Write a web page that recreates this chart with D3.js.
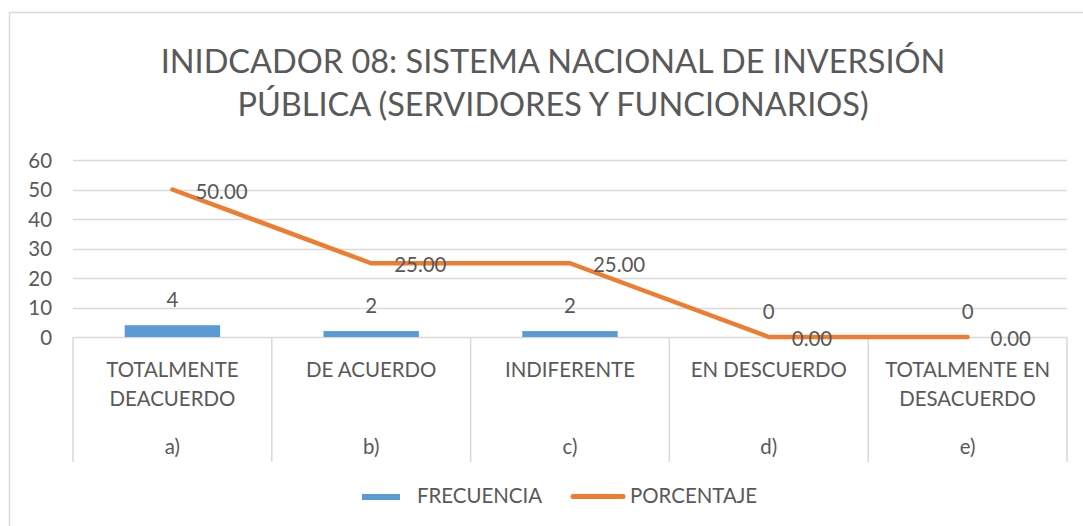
<!DOCTYPE html>
<html>
<head>
<meta charset="utf-8">
<script src="https://cdn.jsdelivr.net/npm/d3@7"></script>
<style>
  html, body { margin: 0; padding: 0; background: #fff; }
  svg text { font-family: Lato, "Open Sans", sans-serif; fill: #595959; }
</style>
</head>
<body>
<svg id="chart" width="1083" height="526"></svg>
<script>
// ---- data ----
const titleLines = ["INIDCADOR 08: SISTEMA NACIONAL DE INVERSIÓN", "PÚBLICA (SERVIDORES Y FUNCIONARIOS)"];
const categories = ["a)", "b)", "c)", "d)", "e)"];
const categoryLabels = [
  ["TOTALMENTE", "DEACUERDO"],
  ["DE ACUERDO"],
  ["INDIFERENTE"],
  ["EN DESCUERDO"],
  ["TOTALMENTE EN", "DESACUERDO"]
];
const frecuencia = [4, 2, 2, 0, 0];
const porcentaje = [50.00, 25.00, 25.00, 0.00, 0.00];
const yTicks = [0, 10, 20, 30, 40, 50, 60];
const seriesNames = ["FRECUENCIA", "PORCENTAJE"];

// ---- layout ----
const svg = d3.select("#chart");
const plot = { left: 73, right: 1067, top: 160, bottom: 337 };
const barColor = "#5B9BD5", lineColor = "#ED7D31", gridColor = "#D9D9D9";

// chart frame
svg.append("rect").attr("x", 9.5).attr("y", 12.5).attr("width", 1090).attr("height", 530)
  .attr("fill", "none").attr("stroke", gridColor).attr("stroke-width", 1.5);

// fit helper
function fitSize(text, target, base) {
  const t = svg.append("text").attr("font-size", base).text(text);
  const w = t.node().getComputedTextLength();
  t.remove();
  return base * target / w;
}
const titleSize = fitSize(titleLines[0], 785, 30);
const labelSize = fitSize("TOTALMENTE EN", 165, 18);

const x = d3.scaleBand().domain(categories).range([plot.left, plot.right]).paddingInner(0).paddingOuter(0);
const y = d3.scaleLinear().domain([0, 60]).range([plot.bottom, plot.top]);

// title
svg.append("g").selectAll("text").data(titleLines).join("text")
  .attr("x", 553).attr("y", (d, i) => 73 + i * 43)
  .attr("text-anchor", "middle").attr("font-size", titleSize).text(d => d);

// gridlines
svg.append("g").selectAll("line").data(yTicks).join("line")
  .attr("x1", plot.left).attr("x2", plot.right)
  .attr("y1", d => Math.round(y(d)) + 0.5).attr("y2", d => Math.round(y(d)) + 0.5)
  .attr("stroke", gridColor).attr("stroke-width", 1.5);

// y axis labels
const yAxis = d3.axisLeft(y).tickValues(yTicks).tickSize(0).tickPadding(0);
const yg = svg.append("g").attr("transform", `translate(52,0)`).call(yAxis);
yg.select(".domain").remove();
yg.selectAll("text").attr("font-size", labelSize).attr("fill", "#595959")
  .style("font-family", "Lato, 'Open Sans', sans-serif").attr("dy", "0.35em");

// category dividers
const edges = categories.map(c => x(c)).concat([plot.right]);
svg.append("g").selectAll("line").data(edges).join("line")
  .attr("x1", d => d).attr("x2", d => d).attr("y1", plot.bottom).attr("y2", 462)
  .attr("stroke", gridColor).attr("stroke-width", 1.5);

// category labels
const cg = svg.append("g");
categories.forEach((c, i) => {
  const cx = x(c) + x.bandwidth() / 2;
  categoryLabels[i].forEach((line, j) => {
    cg.append("text").attr("x", cx).attr("y", 370 + j * 29).attr("dy", "0.35em")
      .attr("text-anchor", "middle").attr("font-size", labelSize).text(line);
  });
  cg.append("text").attr("x", cx).attr("y", 447).attr("dy", "0.35em")
    .attr("text-anchor", "middle").attr("font-size", labelSize).text(c);
});

// bars
const barW = x.bandwidth() * 0.48;
svg.append("g").selectAll("rect").data(frecuencia).join("rect")
  .attr("x", (d, i) => x(categories[i]) + (x.bandwidth() - barW) / 2)
  .attr("y", d => y(d)).attr("width", barW).attr("height", d => y(0) - y(d))
  .attr("fill", barColor);

// bar labels
svg.append("g").selectAll("text").data(frecuencia).join("text")
  .attr("x", (d, i) => x(categories[i]) + x.bandwidth() / 2)
  .attr("y", d => y(d) - 25).attr("dy", "0.35em")
  .attr("text-anchor", "middle").attr("font-size", labelSize).text(d => d);

// line
const line = d3.line()
  .x((d, i) => x(categories[i]) + x.bandwidth() / 2)
  .y(d => y(d));
svg.append("path").datum(porcentaje).attr("d", line)
  .attr("fill", "none").attr("stroke", lineColor).attr("stroke-width", 4.5)
  .attr("stroke-linejoin", "round").attr("stroke-linecap", "round");

// line labels
svg.append("g").selectAll("text").data(porcentaje).join("text")
  .attr("x", (d, i) => x(categories[i]) + x.bandwidth() / 2 + 23)
  .attr("y", d => y(d) + 2).attr("dy", "0.35em")
  .attr("font-size", labelSize).text(d => d.toFixed(2));

// legend
const lg = svg.append("g");
lg.append("rect").attr("x", 362).attr("y", 494).attr("width", 38).attr("height", 6).attr("fill", barColor);
lg.append("text").attr("x", 417).attr("y", 496).attr("dy", "0.35em").attr("font-size", labelSize).text(seriesNames[0]);
lg.append("line").attr("x1", 573).attr("x2", 623).attr("y1", 496.5).attr("y2", 496.5)
  .attr("stroke", lineColor).attr("stroke-width", 5).attr("stroke-linecap", "round");
lg.append("text").attr("x", 630).attr("y", 496).attr("dy", "0.35em").attr("font-size", labelSize).text(seriesNames[1]);
</script>
</body>
</html>
